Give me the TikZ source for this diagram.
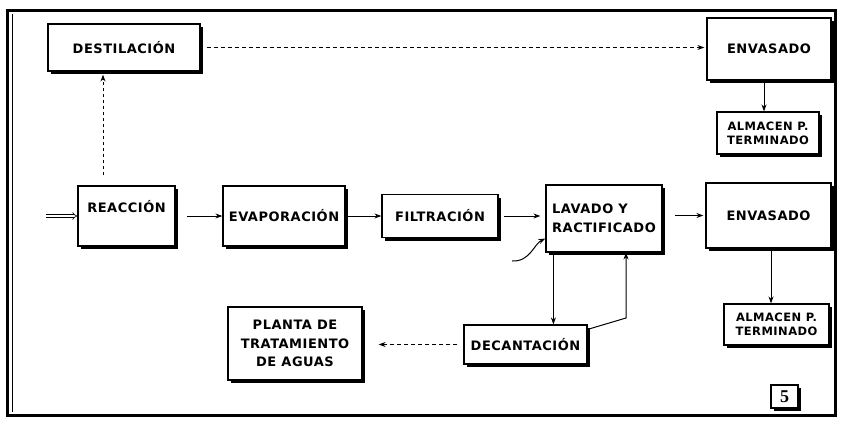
\documentclass[tikz,border=0pt]{standalone}
\usepackage{fontspec}
\setmainfont{DejaVu Sans}[LetterSpace=4]
\newfontfamily\numfont{Liberation Serif}
\usetikzlibrary{arrows.meta,positioning,shadows}

\begin{document}
\begin{tikzpicture}[x=1pt, y=-1pt, >={Stealth[length=7pt,width=5pt]},
    proc/.style={draw, line width=1.2pt, fill=white, inner sep=2pt, align=center,
        font=\bfseries\fontsize{13}{18.5}\selectfont,
        drop shadow={shadow xshift=3pt, shadow yshift=-3pt, fill=black, opacity=1}},
    small/.style={proc, font=\bfseries\fontsize{11.5}{14}\selectfont},
    flow/.style={->, line width=1pt},
    dashflow/.style={flow, dash pattern=on 4pt off 3pt}]

    \useasboundingbox (0,0) rectangle (842,420);

    % Frame
    \draw[line width=3pt] (7,11) rectangle (835,415);
    \draw[line width=0.8pt] (12,14) -- (12,412);

    % Upper line
    \node[proc, minimum width=152pt, minimum height=47pt] (destil) at (124,47.5) {DESTILACIÓN};
    \node[proc, minimum width=124pt, minimum height=62pt] (env1) at (769,49) {ENVASADO};
    \node[small, minimum width=102pt, minimum height=42pt] (alm1) at (768,133) {ALMACEN P.\\TERMINADO};

    % Main line
    \node[proc, minimum width=97pt, minimum height=60pt] (reac) at (126.5,216) {REACCIÓN\\~};
    \node[proc, minimum width=122pt, minimum height=60pt] (evap) at (284,216) {EVAPORACIÓN};
    \node[proc, minimum width=116pt, minimum height=43pt] (filt) at (440,216) {FILTRACIÓN};
    \node[proc, minimum width=116pt, minimum height=67pt, align=left] (lavado) at (604,218.5) {LAVADO Y\\RACTIFICADO};
    \node[proc, minimum width=125pt, minimum height=65pt] (env2) at (768.5,215.5) {ENVASADO};
    \node[small, minimum width=105pt, minimum height=41pt] (alm2) at (776.5,324.5) {ALMACEN P.\\TERMINADO};

    % Lower line
    \node[proc, minimum width=123pt, minimum height=39pt] (decant) at (525.5,344.5) {DECANTACIÓN};
    \node[proc, minimum width=134pt, minimum height=73pt] (planta) at (295,343.5) {PLANTA DE\\TRATAMIENTO\\DE AGUAS};

    % Page number
    \node[draw, line width=1.2pt, minimum width=27pt, minimum height=23pt, inner sep=0pt,
        font=\numfont\bfseries\fontsize{18}{18}\selectfont,
        drop shadow={shadow xshift=2.5pt, shadow yshift=-2.5pt, fill=black, opacity=1}, fill=white] (num) at (784.5,396.5) {5};

    % Connectors
    \coordinate (in) at (46,216);
    \coordinate (feed) at (512,261);
    \coordinate (ret) at (626,318);
    \draw[double distance=2pt, semithick, -{Implies}] (in) -- (reac.west);
    \draw[flow, dash pattern=on 3pt off 3pt, shorten <=10pt, shorten >=3pt] ([xshift=-23.5pt]reac.north) -- ([xshift=-23.5pt]reac.north |- destil.south);
    \draw[dashflow, shorten <=6pt, shorten >=2pt] (destil.east) -- (destil.east -| env1.west);
    \draw[flow] ([xshift=-5pt]env1.south) -- ([xshift=-5pt]env1.south |- alm1.north);
    \draw[flow, shorten <=11pt] (reac.east) -- (evap.west);
    \draw[flow] (evap.east) -- (filt.west);
    \draw[flow, shorten <=5pt, shorten >=5pt] (filt.east) -- (filt.east -| lavado.west);
    \draw[flow, shorten <=12pt, shorten >=2pt] (lavado.east |- env2.west) -- (env2.west);
    \draw[flow] ([xshift=2.5pt]env2.south) -- ([xshift=2.5pt]env2.south |- alm2.north);
    \draw[flow] (feed) .. controls (530,262) and (534,244) .. ([yshift=-20pt]lavado.west);
    \draw[flow] ([xshift=8pt]lavado.south west) -- ([xshift=8pt]lavado.south west |- decant.north);
    \draw[flow] ([yshift=-5pt]decant.north east) -- (ret) -- (ret |- lavado.south);
    \draw[dashflow, shorten <=6pt, shorten >=16pt] (decant.west) -- (decant.west -| planta.east);

\end{tikzpicture}
\end{document}
